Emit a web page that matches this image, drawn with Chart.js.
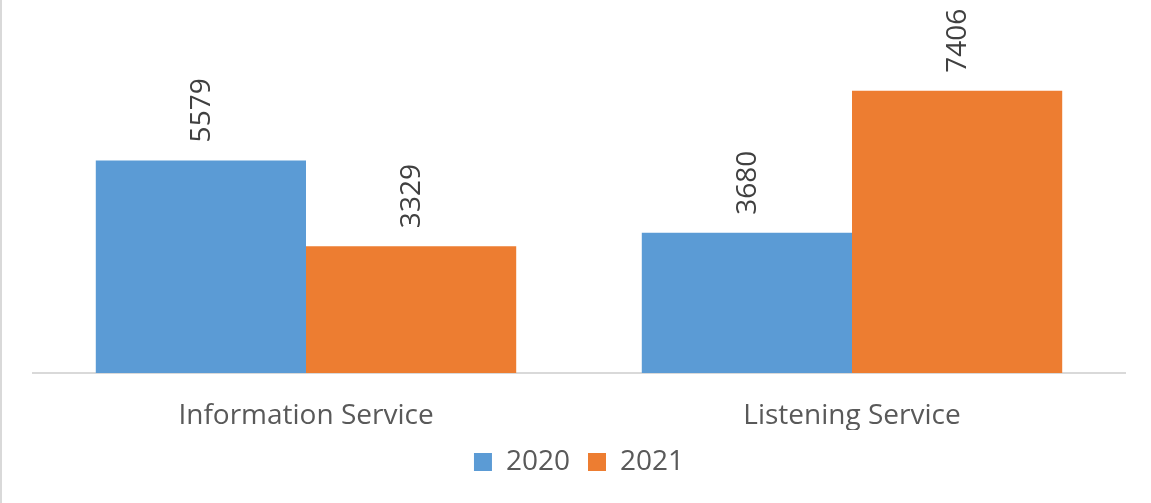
<!DOCTYPE html>
<html>
<head>
<meta charset="utf-8">
<script src="https://cdn.jsdelivr.net/npm/chart.js@4"></script>
<style>
  html, body { margin: 0; padding: 0; background: #fff; }
  #wrap { position: relative; width: 1151px; height: 503px; border-left: 2px solid #d9d9d9; box-sizing: border-box; }
</style>
</head>
<body>
<div id="wrap"><canvas id="chart"></canvas></div>
<script>
const categories = ['Information Service', 'Listening Service'];
const seriesNames = ['2020', '2021'];
const values2020 = [5579, 3680];
const values2021 = [3329, 7406];

// rotated value labels above each bar
const barLabels = {
    id: 'barLabels',
    afterDatasetsDraw(chart) {
        const ctx = chart.ctx;
        ctx.save();
        ctx.font = '28px "Open Sans"';
        ctx.fillStyle = '#404040';
        ctx.textAlign = 'left';
        ctx.textBaseline = 'middle';
        chart.data.datasets.forEach((ds, i) => {
            chart.getDatasetMeta(i).data.forEach((bar, j) => {
                ctx.save();
                ctx.translate(bar.x, bar.y - 18);
                ctx.rotate(-Math.PI / 2);
                ctx.fillText(String(ds.data[j]), 0, 1);
                ctx.restore();
            });
        });
        ctx.restore();
    }
};

const chart = document.querySelector('#chart').getContext('2d');

new Chart(chart, {
    type: 'bar',
    data: {
        labels: categories,
        datasets: [
            {
                label: seriesNames[0],
                data: values2020,
                backgroundColor: '#5b9bd5',
                categoryPercentage: 0.77,
                barPercentage: 1
            },
            {
                label: seriesNames[1],
                data: values2021,
                backgroundColor: '#ed7d31',
                categoryPercentage: 0.77,
                barPercentage: 1
            }
        ]
    },
    options: {
        responsive: true,
        maintainAspectRatio: false,
        animation: false,
        layout: {
            padding: { left: 31, right: 26, top: 30, bottom: 17 }
        },
        scales: {
            x: {
                grid: { display: false },
                border: { display: true, color: '#d9d9d9', width: 2 },
                ticks: {
                    padding: 21,
                    color: '#595959',
                    font: { family: 'Open Sans', size: 28, lineHeight: 1 }
                },
                afterFit(scale) {
                    scale.height = 57;
                }
            },
            y: {
                display: false,
                min: 0,
                max: 9000
            }
        },
        plugins: {
            legend: {
                position: 'bottom',
                labels: {
                    boxWidth: 18,
                    boxHeight: 18,
                    padding: 18,
                    color: '#595959',
                    font: { family: 'Open Sans', size: 28 }
                }
            },
            tooltip: { enabled: false }
        }
    },
    plugins: [barLabels]
});
</script>
</body>
</html>
